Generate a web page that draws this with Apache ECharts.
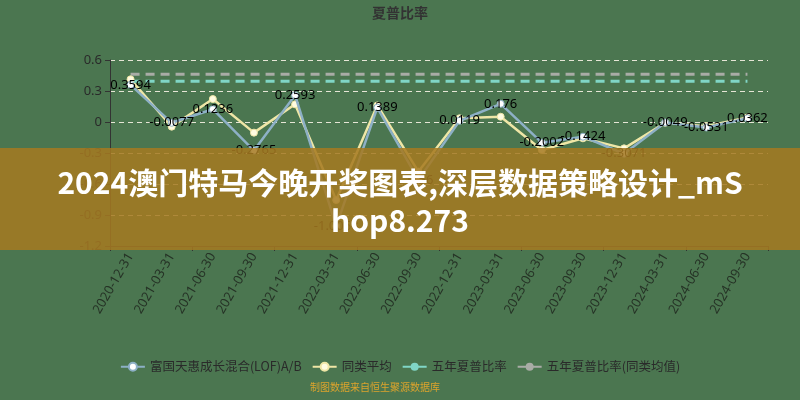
<!DOCTYPE html>
<html><head><meta charset="utf-8">
<script src="https://cdn.jsdelivr.net/npm/echarts@6/dist/echarts.min.js"></script>
<style>html,body{margin:0;padding:0;background:#4b7650}#c{width:800px;height:400px}</style>
</head><body><div id="c"></div>
<script>
const categories = ['2020-12-31','2021-03-31','2021-06-30','2021-09-30','2021-12-31','2022-03-31','2022-06-30','2022-09-30','2022-12-31','2023-03-31','2023-06-30','2023-09-30','2023-12-31','2024-03-31','2024-06-30','2024-09-30'];
const fundValues = [0.3594,-0.0077,0.1236,-0.2765,0.2593,-1.0068,0.1389,-0.5600,0.0119,0.176,-0.2002,-0.1424,-0.3071,-0.0049,-0.0531,0.0362];
const avgValues = [0.413,-0.045,0.222,-0.103,0.171,-0.755,0.160,-0.480,0.036,0.051,-0.271,-0.158,-0.255,-0.008,-0.040,0.045];
const fiveYearSharpe = new Array(16).fill(0.394);
const fiveYearSharpeAvg = new Array(16).fill(0.462);
const yTicks = {min:-1.2, max:0.6, interval:0.3};
const seriesNames = ['富国天惠成长混合(LOF)A/B','同类平均','五年夏普比率','五年夏普比率(同类均值)'];
const titleText = '夏普比率';
const footerText = '制图数据来自恒生聚源数据库';
const overlayText = '2024澳门特马今晚开奖图表,深层数据策略设计_mS\nhop8.273';

const chart = echarts.init(document.getElementById('c'));
chart.setOption({
  backgroundColor:'#4b7650',
  animation:false,
  title:{text:titleText,left:'center',top:1,textStyle:{color:'#333',fontSize:14,fontWeight:'bold',fontFamily:'Noto Sans CJK SC'}},
  grid:{left:110,right:32,top:60,bottom:154},
  legend:{bottom:22,left:'center',itemWidth:24,itemHeight:10,itemGap:10,
    textStyle:{color:'#2a2a2a',fontSize:12.5,fontFamily:'Noto Sans CJK SC'},data:seriesNames},
  xAxis:[
    {type:'category',data:categories,position:'bottom',boundaryGap:true,
     axisLine:{show:false},axisTick:{show:false},
     axisLabel:{rotate:60,color:'#263326',fontSize:13,margin:8,fontFamily:'Noto Sans'}},
    {type:'category',data:categories,boundaryGap:true,position:'bottom',
     axisLine:{show:true,onZero:true,lineStyle:{color:'#333'}},
     axisTick:{show:true,length:5,lineStyle:{color:'#333'}},
     axisLabel:{show:false}}
  ],
  yAxis:{type:'value',min:yTicks.min,max:yTicks.max,interval:yTicks.interval,
    axisLine:{show:true,lineStyle:{color:'#333'}},
    axisTick:{show:true,length:5,lineStyle:{color:'#333'}},
    axisLabel:{color:'#2a2a2a',fontSize:13,margin:8,fontFamily:'Noto Sans',formatter:v=>String(Math.round(v*10)/10)},
    splitLine:{show:true,lineStyle:{color:'#e6e6d6',type:[5,4],width:1}}},
  series:[
    {name:seriesNames[0],type:'line',data:fundValues,z:3,
     symbol:'circle',symbolSize:7,
     lineStyle:{color:'#8db0c6',width:2.5},
     itemStyle:{color:'#ffffff',borderColor:'#8db0c6',borderWidth:1},
     label:{show:true,position:'inside',color:'#000',fontSize:13,textBorderWidth:0,fontFamily:'Noto Sans',formatter:p=>String(p.value)}},
    {name:seriesNames[1],type:'line',data:avgValues,z:2,
     symbol:'circle',symbolSize:7,
     lineStyle:{color:'#efe6a6',width:2.5},
     itemStyle:{color:'#fffbe0',borderColor:'#efe6a6',borderWidth:1}},
    {name:seriesNames[2],type:'line',data:fiveYearSharpe,z:2,
     symbol:'none',showSymbol:false,
     lineStyle:{color:'#80d6c6',width:3,type:[9,6]},
     itemStyle:{color:'#80d6c6'}},
    {name:seriesNames[3],type:'line',data:fiveYearSharpeAvg,z:2,
     symbol:'none',showSymbol:false,
     lineStyle:{color:'#a9aca6',width:3,type:[9,6]},
     itemStyle:{color:'#a9aca6'}}
  ],
  graphic:[
    {type:'text',left:310,top:382,z:50,style:{text:footerText,fill:'#dda42c',fontSize:10,fontFamily:'Noto Sans CJK SC'}},
    {type:'rect',left:0,top:148,z:100,shape:{width:800,height:102},style:{fill:'rgba(165,121,33,0.86)'}},
    {type:'text',x:400,y:164,z:101,style:{text:overlayText,fill:'#ffffff',fontSize:30,fontWeight:'bold',lineHeight:38,align:'center',verticalAlign:'top',fontFamily:'Noto Sans CJK SC'}}
  ]
});
</script></body></html>
